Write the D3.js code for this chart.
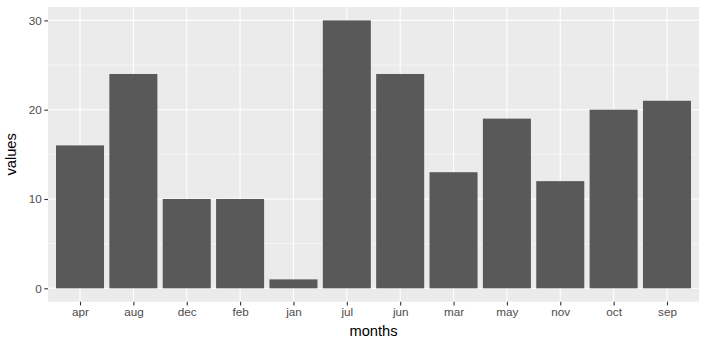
<!DOCTYPE html>
<html lang="en">
<head>
  <meta charset="UTF-8" />
  <title>values by month</title>
  <style>
    body { margin: 0; background: #fff; }
    svg { display: block; font-family: "Liberation Sans", Arial, sans-serif; }
    .tick-label { font-size: 11.7px; fill: #4D4D4D; }
    .axis-title { font-size: 14.7px; fill: #000; }
  </style>
</head>
<body>
  <svg width="707" height="347"></svg>
  <script src="https://d3js.org/d3.v7.min.js"></script>
  <script>
    const months = ["apr", "aug", "dec", "feb", "jan", "jul", "jun", "mar", "may", "nov", "oct", "sep"];
    const values = [16, 24, 10, 10, 1, 30, 24, 13, 19, 12, 20, 21];
    const yTicks = [0, 10, 20, 30];
    const yMinor = [5, 15, 25];

    const svg = d3.select("svg");
    const panel = { left: 48, top: 7, right: 699, bottom: 301.7 };

    // ggplot-like expansion: 5% on y, 0.6 units on discrete x
    const yMax = d3.max(values);
    const y = d3.scaleLinear()
      .domain([-0.05 * yMax, yMax * 1.05])
      .range([panel.bottom, panel.top]);

    const step = (panel.right - panel.left) / (months.length - 1 + 1.2);
    const x = d3.scalePoint()
      .domain(months)
      .range([panel.left + 0.6 * step, panel.right - 0.6 * step]);
    const barW = 0.9 * step;

    svg.append("rect")
      .attr("x", panel.left).attr("y", panel.top)
      .attr("width", panel.right - panel.left)
      .attr("height", panel.bottom - panel.top)
      .attr("fill", "#EBEBEB");

    const grid = svg.append("g");
    grid.selectAll(".minor").data(yMinor).join("line")
      .attr("x1", panel.left).attr("x2", panel.right)
      .attr("y1", d => y(d)).attr("y2", d => y(d))
      .attr("stroke", "#fff").attr("stroke-width", 0.55);
    grid.selectAll(".major-y").data(yTicks).join("line")
      .attr("x1", panel.left).attr("x2", panel.right)
      .attr("y1", d => y(d)).attr("y2", d => y(d))
      .attr("stroke", "#fff").attr("stroke-width", 1.1);
    grid.selectAll(".major-x").data(months).join("line")
      .attr("y1", panel.top).attr("y2", panel.bottom)
      .attr("x1", d => x(d)).attr("x2", d => x(d))
      .attr("stroke", "#fff").attr("stroke-width", 1.1);

    svg.append("g").selectAll("rect").data(months).join("rect")
      .attr("x", d => x(d) - barW / 2)
      .attr("width", barW)
      .attr("y", (d, i) => y(values[i]))
      .attr("height", (d, i) => y(0) - y(values[i]))
      .attr("fill", "#595959");

    // y axis
    const yAxis = svg.append("g")
      .attr("transform", `translate(${panel.left},0)`)
      .call(d3.axisLeft(y).tickValues(yTicks).tickSize(3.7).tickPadding(2.5));
    yAxis.select(".domain").remove();
    yAxis.selectAll(".tick line").attr("stroke", "#333").attr("stroke-width", 1.1);
    yAxis.selectAll(".tick text").attr("class", "tick-label").attr("font-family", null).attr("font-size", null).attr("fill", null);

    // x axis
    const xAxis = svg.append("g")
      .attr("transform", `translate(0,${panel.bottom})`)
      .call(d3.axisBottom(x).tickSize(3.7).tickPadding(2.5));
    xAxis.select(".domain").remove();
    xAxis.selectAll(".tick line").attr("stroke", "#333").attr("stroke-width", 1.1);
    xAxis.selectAll(".tick text").attr("class", "tick-label").attr("font-family", null).attr("font-size", null).attr("fill", null);

    svg.append("text")
      .attr("class", "axis-title")
      .attr("x", (panel.left + panel.right) / 2)
      .attr("y", 336)
      .attr("text-anchor", "middle")
      .text("months");

    svg.append("text")
      .attr("class", "axis-title")
      .attr("transform", `translate(16,${(panel.top + panel.bottom) / 2}) rotate(-90)`)
      .attr("text-anchor", "middle")
      .text("values");
  </script>
</body>
</html>
